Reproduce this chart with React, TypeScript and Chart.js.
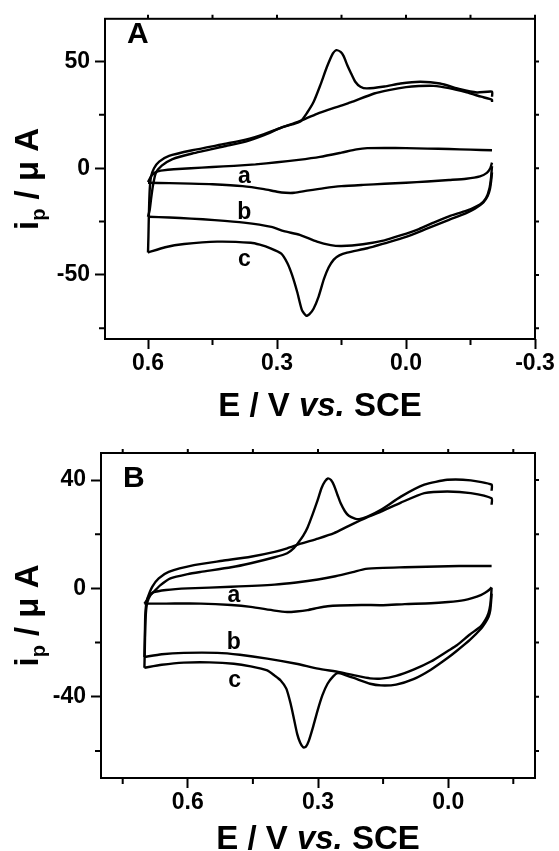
import React, { useEffect, useRef } from 'react';
import { Chart, registerables } from 'chart.js';

Chart.register(...registerables);

const FONT = '"Liberation Sans", Arial, Helvetica, sans-serif';

// ================= Panel A data =================
const A_X_TICKS = [0.6, 0.3, 0.0, -0.3];
const A_X_MINOR = [0.45, 0.15, -0.15];
const A_Y_TICKS = [50, 0, -50];
const A_Y_MINOR = [25, -25, -75];

const A_A_FWD_E = [0.600, 0.592, 0.580, 0.565, 0.540, 0.500, 0.450, 0.400, 0.350, 0.300, 0.250, 0.200, 0.150, 0.115, 0.090, 0.050, 0.000, -0.050, -0.100, -0.150, -0.200];
const A_A_FWD_I = [-6.5, -3.5, -1.6, -1.0, -0.5, 0.0, 0.6, 1.1, 1.8, 2.8, 3.9, 5.3, 7.3, 8.8, 9.4, 9.5, 9.4, 9.2, 9.0, 8.7, 8.4];
const A_A_REV_E = [-0.200, -0.196, -0.188, -0.172, -0.140, -0.100, -0.050, 0.000, 0.050, 0.100, 0.150, 0.190, 0.230, 0.260, 0.280, 0.300, 0.330, 0.380, 0.450, 0.500, 0.550, 0.600];
const A_A_REV_I = [2.6, 0.0, -2.2, -3.8, -4.9, -5.5, -6.2, -6.8, -7.3, -7.8, -8.4, -9.3, -10.5, -11.5, -11.5, -11.0, -9.8, -8.4, -7.5, -7.2, -7.0, -6.8];

const A_B_FWD_E = [0.600, 0.596, 0.592, 0.588, 0.582, 0.568, 0.543, 0.497, 0.419, 0.373, 0.330, 0.290, 0.250, 0.207, 0.156, 0.129, 0.074, 0.040, 0.000, -0.030, -0.064, -0.100, -0.141, -0.175, -0.200, -0.200];
const A_B_FWD_I = [-22.7, -19.5, -13.0, -7.6, -2.3, 1.2, 4.3, 6.9, 10.4, 12.5, 15.5, 19.0, 21.8, 25.5, 29.0, 30.8, 35.0, 36.6, 38.0, 38.5, 38.6, 37.5, 35.5, 33.5, 32.1, 31.0];
const A_B_REV_E = [-0.200, -0.198, -0.194, -0.186, -0.172, -0.141, -0.100, -0.064, -0.030, 0.013, 0.050, 0.100, 0.150, 0.175, 0.207, 0.247, 0.284, 0.313, 0.377, 0.445, 0.500, 0.550, 0.600];
const A_B_REV_I = [1.0, -4.0, -9.5, -14.0, -17.0, -19.9, -22.5, -25.5, -28.5, -31.5, -33.8, -35.6, -36.4, -36.0, -34.4, -31.2, -29.5, -27.5, -25.5, -24.3, -23.6, -23.1, -22.7];

const A_C_FWD_E = [0.600, 0.599, 0.598, 0.596, 0.593, 0.586, 0.574, 0.551, 0.497, 0.419, 0.373, 0.330, 0.290, 0.265, 0.245, 0.230, 0.215, 0.200, 0.184, 0.170, 0.162, 0.152, 0.145, 0.137, 0.129, 0.118, 0.106, 0.091, 0.050, 0.013, -0.033, -0.079, -0.126, -0.165, -0.200, -0.200];
const A_C_FWD_I = [-39.5, -32.0, -22.0, -10.0, -4.0, 0.0, 3.1, 5.8, 8.4, 11.5, 13.4, 16.0, 19.0, 20.5, 22.0, 26.0, 31.0, 38.5, 47.4, 53.8, 55.3, 54.5, 52.5, 48.5, 45.0, 40.5, 38.2, 37.4, 38.3, 39.7, 40.5, 39.7, 37.0, 35.5, 35.9, 33.5];
const A_C_REV_E = [-0.200, -0.198, -0.195, -0.190, -0.180, -0.160, -0.140, -0.100, -0.050, 0.000, 0.050, 0.090, 0.137, 0.155, 0.168, 0.180, 0.191, 0.203, 0.215, 0.225, 0.232, 0.242, 0.253, 0.265, 0.276, 0.290, 0.315, 0.340, 0.361, 0.439, 0.516, 0.560, 0.600];
const A_C_REV_I = [-2.0, -6.0, -10.0, -13.0, -16.0, -19.0, -21.0, -24.2, -28.2, -32.2, -35.2, -37.5, -39.5, -40.8, -42.8, -46.5, -52.0, -60.0, -65.8, -68.5, -69.1, -66.5, -58.0, -50.0, -44.4, -40.0, -37.5, -35.8, -34.9, -34.4, -35.5, -37.0, -39.5];

const A_LABELS = ['a', 'b', 'c'];
const A_LABEL_E = [0.376, 0.376, 0.376];
const A_LABEL_I = [-6.9, -23.7, -45.7];

// ================= Panel B data =================
const B_X_TICKS = [0.6, 0.3, 0.0];
const B_X_MINOR = [0.75, 0.45, 0.15, -0.15];
const B_Y_TICKS = [40, 0, -40];
const B_Y_MINOR = [20, -20, -60];

const B_A_FWD_E = [0.700, 0.695, 0.690, 0.680, 0.650, 0.600, 0.500, 0.400, 0.350, 0.300, 0.260, 0.220, 0.190, 0.150, 0.100, 0.050, 0.000, -0.050, -0.100];
const B_A_FWD_I = [-5.6, -4.5, -3.0, -1.5, -0.6, 0.0, 0.6, 1.4, 2.2, 3.3, 4.5, 6.0, 7.2, 7.6, 7.8, 8.0, 8.2, 8.3, 8.3];
const B_A_REV_E = [-0.100, -0.094, -0.085, -0.075, -0.055, -0.037, 0.000, 0.040, 0.100, 0.150, 0.200, 0.250, 0.278, 0.300, 0.324, 0.350, 0.371, 0.400, 0.455, 0.500, 0.570, 0.650, 0.700];
const B_A_REV_I = [0.4, -0.6, -1.6, -2.5, -3.6, -4.3, -5.0, -5.5, -5.8, -6.2, -6.1, -6.3, -6.6, -7.2, -8.0, -8.5, -8.7, -8.2, -6.8, -6.1, -5.6, -5.6, -5.6];

const B_B_FWD_E = [0.700, 0.699, 0.698, 0.696, 0.693, 0.682, 0.667, 0.644, 0.586, 0.520, 0.455, 0.400, 0.371, 0.340, 0.300, 0.263, 0.230, 0.186, 0.155, 0.109, 0.055, 0.002, -0.052, -0.100, -0.100];
const B_B_FWD_I = [-25.3, -18.0, -10.0, -6.0, -3.7, 0.6, 3.7, 6.1, 8.6, 10.2, 11.7, 13.5, 14.8, 16.5, 18.4, 20.4, 23.0, 26.3, 28.3, 31.7, 35.2, 35.8, 35.2, 33.3, 30.9];
const B_B_REV_E = [-0.100, -0.099, -0.097, -0.093, -0.086, -0.075, -0.050, -0.020, 0.000, 0.040, 0.080, 0.120, 0.155, 0.180, 0.210, 0.250, 0.300, 0.350, 0.417, 0.480, 0.532, 0.609, 0.660, 0.700];
const B_B_REV_I = [0.3, -2.5, -6.0, -9.0, -11.5, -14.0, -17.0, -21.0, -23.0, -27.0, -30.0, -32.3, -33.3, -33.2, -32.3, -30.9, -29.6, -27.8, -25.9, -24.5, -23.8, -23.8, -24.3, -25.3];

const B_C_FWD_E = [0.700, 0.699, 0.698, 0.696, 0.693, 0.686, 0.678, 0.663, 0.640, 0.600, 0.570, 0.500, 0.455, 0.400, 0.371, 0.355, 0.345, 0.334, 0.324, 0.312, 0.301, 0.292, 0.284, 0.277, 0.270, 0.263, 0.255, 0.248, 0.238, 0.229, 0.215, 0.205, 0.186, 0.155, 0.109, 0.055, 0.002, -0.052, -0.100, -0.100];
const B_C_FWD_I = [-29.3, -22.0, -14.0, -8.0, -5.0, -2.5, -1.2, 1.2, 3.7, 5.3, 6.1, 7.8, 9.3, 11.5, 13.0, 15.0, 17.0, 19.5, 22.5, 27.5, 32.5, 37.0, 39.5, 40.6, 40.0, 38.0, 34.5, 31.5, 28.5, 26.8, 25.8, 25.6, 26.5, 29.0, 33.9, 38.3, 40.1, 39.9, 38.3, 36.1];
const B_C_REV_E = [-0.100, -0.099, -0.097, -0.093, -0.086, -0.075, -0.050, -0.020, 0.000, 0.040, 0.080, 0.120, 0.155, 0.180, 0.210, 0.240, 0.255, 0.265, 0.278, 0.290, 0.301, 0.312, 0.321, 0.328, 0.334, 0.341, 0.348, 0.355, 0.363, 0.373, 0.386, 0.400, 0.417, 0.455, 0.494, 0.550, 0.609, 0.660, 0.700];
const B_C_REV_I = [-1.9, -4.5, -8.0, -10.5, -12.5, -15.0, -19.0, -23.0, -25.5, -30.0, -33.5, -35.5, -35.8, -35.2, -33.5, -31.8, -31.3, -32.5, -35.2, -39.5, -45.1, -51.5, -56.2, -58.5, -58.7, -57.0, -53.7, -48.5, -42.6, -37.0, -34.0, -32.2, -30.3, -28.8, -27.8, -27.3, -27.4, -28.2, -29.3];

const B_LABELS = ['a', 'b', 'c'];
const B_LABEL_E = [0.494, 0.494, 0.492];
const B_LABEL_I = [-5.0, -22.2, -36.4];

// ================= helpers =================
const pts = (xs: number[], ys: number[]) => xs.map((x, i) => ({ x, y: ys[i] }));

type Spec = {
  letter: string;
  xMin: number; xMax: number; yMin: number; yMax: number;
  xTicks: number[]; xMinor: number[]; yTicks: number[]; yMinor: number[];
  branches: { x: number; y: number }[][];
  labels: string[]; labelE: number[]; labelI: number[];
  canvasTop: number; canvasH: number;
  area: { left: number; right: number; top: number; bottom: number };
  letterX: number; letterY: number;
  xTitleY: number; yTitleX: number;
};

const PANEL_A: Spec = {
  letter: 'A',
  xMin: -0.3, xMax: 0.7, yMin: -80, yMax: 70,
  xTicks: A_X_TICKS, xMinor: A_X_MINOR, yTicks: A_Y_TICKS, yMinor: A_Y_MINOR,
  branches: [
    pts(A_A_FWD_E, A_A_FWD_I), pts(A_A_REV_E, A_A_REV_I),
    pts(A_B_FWD_E, A_B_FWD_I), pts(A_B_REV_E, A_B_REV_I),
    pts(A_C_FWD_E, A_C_FWD_I), pts(A_C_REV_E, A_C_REV_I),
  ],
  labels: A_LABELS, labelE: A_LABEL_E, labelI: A_LABEL_I,
  canvasTop: 0, canvasH: 425,
  area: { left: 105, right: 535, top: 10, bottom: 339 },
  letterX: 127, letterY: 43,
  xTitleY: 416, yTitleX: 38,
};

const PANEL_B: Spec = {
  letter: 'B',
  xMin: -0.2, xMax: 0.8, yMin: -70, yMax: 50,
  xTicks: B_X_TICKS, xMinor: B_X_MINOR, yTicks: B_Y_TICKS, yMinor: B_Y_MINOR,
  branches: [
    pts(B_A_FWD_E, B_A_FWD_I), pts(B_A_REV_E, B_A_REV_I),
    pts(B_B_FWD_E, B_B_FWD_I), pts(B_B_REV_E, B_B_REV_I),
    pts(B_C_FWD_E, B_C_FWD_I), pts(B_C_REV_E, B_C_REV_I),
  ],
  labels: B_LABELS, labelE: B_LABEL_E, labelI: B_LABEL_I,
  canvasTop: 430, canvasH: 421,
  area: { left: 101, right: 535, top: 23, bottom: 348 },
  letterX: 123, letterY: 57,
  xTitleY: 419, yTitleX: 38,
};

function drawSegments(ctx: CanvasRenderingContext2D, segs: { t: string; font: string; dy?: number }[], cx: number, y: number) {
  let total = 0;
  const widths = segs.map((s) => { ctx.font = s.font; const w = ctx.measureText(s.t).width; total += w; return w; });
  let x = cx - total / 2;
  segs.forEach((s, i) => {
    ctx.font = s.font;
    ctx.fillText(s.t, x, y + (s.dy || 0));
    x += widths[i];
  });
}

function makeDeco(spec: Spec) {
  return {
    id: 'deco' + spec.letter,
    afterDraw(chart: any) {
      const ctx: CanvasRenderingContext2D = chart.ctx;
      const a = chart.chartArea;
      const xs = chart.scales.x;
      const ys = chart.scales.y;
      ctx.save();
      ctx.strokeStyle = '#000';
      ctx.fillStyle = '#000';
      ctx.lineWidth = 2;
      ctx.strokeRect(a.left, a.top, a.right - a.left, a.bottom - a.top);
      ctx.beginPath();
      // minor ticks bottom / left
      spec.xMinor.forEach((v) => {
        const p = xs.getPixelForValue(v);
        ctx.moveTo(p, a.bottom); ctx.lineTo(p, a.bottom + 6);
      });
      spec.yMinor.forEach((v) => {
        const p = ys.getPixelForValue(v);
        ctx.moveTo(a.left - 6, p); ctx.lineTo(a.left, p);
      });
      // mirror ticks top / right
      [...spec.xTicks, ...spec.xMinor].forEach((v) => {
        const p = xs.getPixelForValue(v);
        ctx.moveTo(p, a.top); ctx.lineTo(p, a.top - 4);
      });
      [...spec.yTicks, ...spec.yMinor].forEach((v) => {
        const p = ys.getPixelForValue(v);
        ctx.moveTo(a.right, p); ctx.lineTo(a.right + 4, p);
      });
      ctx.stroke();

      // panel letter
      ctx.textAlign = 'left';
      ctx.textBaseline = 'alphabetic';
      ctx.font = `bold 30px ${FONT}`;
      ctx.fillText(spec.letter, spec.letterX, spec.letterY);

      // curve labels
      ctx.textAlign = 'center';
      ctx.font = `bold 23px ${FONT}`;
      spec.labels.forEach((t, i) => {
        ctx.fillText(t, xs.getPixelForValue(spec.labelE[i]), ys.getPixelForValue(spec.labelI[i]));
      });

      // x title
      ctx.textAlign = 'left';
      const reg = `bold 33px ${FONT}`;
      const ital = `italic bold 33px ${FONT}`;
      drawSegments(ctx, [
        { t: 'E / V ', font: reg },
        { t: 'vs.', font: ital },
        { t: ' SCE', font: reg },
      ], (a.left + a.right) / 2, spec.xTitleY);

      // y title (rotated)
      ctx.save();
      ctx.translate(spec.yTitleX, (a.top + a.bottom) / 2);
      ctx.rotate(-Math.PI / 2);
      drawSegments(ctx, [
        { t: 'i', font: reg },
        { t: 'p', font: `bold 20px ${FONT}`, dy: 7 },
        { t: ' / \u03BC A', font: reg },
      ], 0, 0);
      ctx.restore();
      ctx.restore();
    },
  };
}

function Panel({ spec }: { spec: Spec }) {
  const ref = useRef<HTMLCanvasElement | null>(null);
  useEffect(() => {
    if (!ref.current) return;
    const W = 559;
    const tickFont = { family: FONT, size: 23, weight: 'bold' as const };
    const chart = new Chart(ref.current, {
      type: 'scatter',
      data: {
        datasets: spec.branches.map((b) => ({
          data: b,
          showLine: true,
          borderColor: '#000',
          borderWidth: 2.4,
          pointRadius: 0,
          pointHoverRadius: 0,
          fill: false,
          tension: 0.2,
        })),
      },
      options: {
        animation: false,
        responsive: false,
        events: [],
        layout: { padding: { left: 0, right: W - spec.area.right, top: spec.area.top, bottom: 0 } },
        plugins: { legend: { display: false }, tooltip: { enabled: false }, title: { display: false } },
        scales: {
          x: {
            type: 'linear',
            reverse: true,
            min: spec.xMin,
            max: spec.xMax,
            afterFit: (s: any) => { s.height = spec.canvasH - spec.area.bottom; },
            afterBuildTicks: (s: any) => { s.ticks = spec.xTicks.map((v) => ({ value: v })); },
            ticks: {
              callback: (v: any) => Number(v).toFixed(1),
              font: tickFont,
              color: '#000',
              padding: 1,
              maxRotation: 0,
              autoSkip: false,
            },
            grid: { display: true, drawOnChartArea: false, drawTicks: true, tickLength: 10, tickWidth: 2, tickColor: '#000', color: '#000' },
            border: { display: false },
          },
          y: {
            type: 'linear',
            min: spec.yMin,
            max: spec.yMax,
            afterFit: (s: any) => { s.width = spec.area.left; },
            afterBuildTicks: (s: any) => { s.ticks = spec.yTicks.map((v) => ({ value: v })); },
            ticks: {
              callback: (v: any) => String(Math.round(Number(v))),
              font: tickFont,
              color: '#000',
              padding: 5,
              autoSkip: false,
            },
            grid: { display: true, drawOnChartArea: false, drawTicks: true, tickLength: 10, tickWidth: 2, tickColor: '#000', color: '#000' },
            border: { display: false },
          },
        },
      },
      plugins: [makeDeco(spec)],
    } as any);
    return () => chart.destroy();
  }, [spec]);
  return (
    <canvas
      ref={ref}
      width={559}
      height={spec.canvasH}
      style={{ position: 'absolute', left: 0, top: spec.canvasTop, width: 559, height: spec.canvasH, display: 'block' }}
    />
  );
}

export default function App() {
  return (
    <div style={{ position: 'absolute', left: 0, top: 0, width: 559, height: 851, background: '#fff', overflow: 'hidden' }}>
      <Panel spec={PANEL_A} />
      <Panel spec={PANEL_B} />
    </div>
  );
}
